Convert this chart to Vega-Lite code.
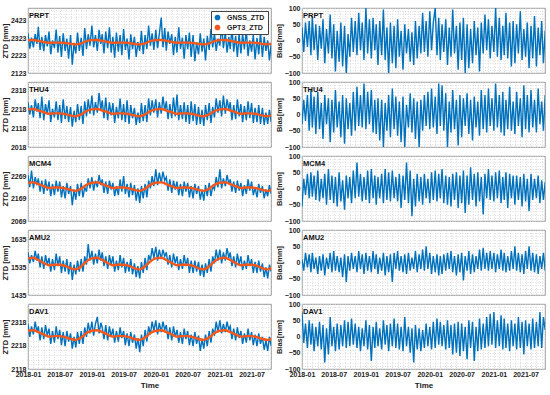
{
"$schema":"https://vega.github.io/schema/vega-lite/v6.json",
"padding":{"left":1,"top":3,"right":2,"bottom":2},
"spacing":0,
"resolve":{"scale":{"color":"independent"},"legend":{"color":"independent"}},
"config":{
 "font":"Liberation Sans",
 "view":{"stroke":"#808080","strokeWidth":0.8},
 "axis":{"labelFontSize":7,"labelFontWeight":"bold","labelColor":"#222","titleFontSize":7.5,"titleFontWeight":"bold","titleColor":"#222","grid":true,"gridColor":"#d2d2d2","gridDash":[1,1.5],"gridWidth":0.7,"domain":false,"ticks":false,"labelPadding":2,"titlePadding":1}
},
"datasets":{
"z":[
{"t":"2018-01-01","P":2350,"T":2255,"M":2275,"A":1590,"D":2310,"bp":40,"bt":-30,"bm":-55,"ba":10,"bd":75},
{"t":"2018-01-11","P":2262,"T":2190,"M":2220,"A":1550,"D":2255,"bp":-35,"bt":45,"bm":30,"ba":-25,"bd":-20},
{"t":"2018-01-21","P":2325,"T":2240,"M":2295,"A":1580,"D":2300,"bp":55,"bt":-20,"bm":-20,"ba":30,"bd":40},
{"t":"2018-02-01","P":2270,"T":2175,"M":2215,"A":1555,"D":2265,"bp":-20,"bt":60,"bm":45,"ba":-15,"bd":-35},
{"t":"2018-02-11","P":2345,"T":2270,"M":2265,"A":1595,"D":2320,"bp":60,"bt":-50,"bm":-30,"ba":25,"bd":50},
{"t":"2018-02-21","P":2290,"T":2205,"M":2230,"A":1560,"D":2275,"bp":-45,"bt":75,"bm":50,"ba":-30,"bd":-25},
{"t":"2018-03-01","P":2388,"T":2250,"M":2260,"A":1585,"D":2300,"bp":75,"bt":-40,"bm":-25,"ba":30,"bd":40},
{"t":"2018-03-11","P":2255,"T":2170,"M":2200,"A":1535,"D":2240,"bp":-30,"bt":55,"bm":40,"ba":-20,"bd":-45},
{"t":"2018-03-21","P":2330,"T":2285,"M":2250,"A":1575,"D":2295,"bp":50,"bt":-60,"bm":-35,"ba":15,"bd":30},
{"t":"2018-04-01","P":2248,"T":2160,"M":2190,"A":1530,"D":2245,"bp":-60,"bt":70,"bm":55,"ba":-35,"bd":-30},
{"t":"2018-04-11","P":2340,"T":2245,"M":2255,"A":1580,"D":2305,"bp":45,"bt":-45,"bm":-40,"ba":20,"bd":45},
{"t":"2018-04-21","P":2275,"T":2190,"M":2205,"A":1545,"D":2260,"bp":-25,"bt":35,"bm":30,"ba":-25,"bd":-40},
{"t":"2018-05-01","P":2360,"T":2265,"M":2245,"A":1570,"D":2290,"bp":65,"bt":-75,"bm":-30,"ba":25,"bd":35},
{"t":"2018-05-11","P":2230,"T":2150,"M":2180,"A":1520,"D":2225,"bp":-70,"bt":60,"bm":45,"ba":-40,"bd":-80},
{"t":"2018-05-21","P":2310,"T":2220,"M":2235,"A":1565,"D":2280,"bp":35,"bt":-30,"bm":-50,"ba":15,"bd":25},
{"t":"2018-06-01","P":2265,"T":2175,"M":2185,"A":1525,"D":2230,"bp":-40,"bt":50,"bm":60,"ba":-20,"bd":-55},
{"t":"2018-06-11","P":2372,"T":2260,"M":2250,"A":1585,"D":2300,"bp":80,"bt":-85,"bm":-35,"ba":30,"bd":60},
{"t":"2018-06-21","P":2240,"T":2160,"M":2200,"A":1540,"D":2245,"bp":-55,"bt":45,"bm":40,"ba":-30,"bd":-30},
{"t":"2018-07-01","P":2335,"T":2240,"M":2245,"A":1575,"D":2285,"bp":50,"bt":-55,"bm":-45,"ba":35,"bd":30},
{"t":"2018-07-11","P":2215,"T":2145,"M":2175,"A":1515,"D":2220,"bp":-95,"bt":75,"bm":35,"ba":-25,"bd":-45},
{"t":"2018-07-21","P":2350,"T":2270,"M":2225,"A":1560,"D":2275,"bp":30,"bt":-40,"bm":-55,"ba":20,"bd":40},
{"t":"2018-08-01","P":2250,"T":2165,"M":2170,"A":1520,"D":2215,"bp":-65,"bt":40,"bm":50,"ba":-30,"bd":-40},
{"t":"2018-08-11","P":2320,"T":2235,"M":2240,"A":1565,"D":2280,"bp":55,"bt":-70,"bm":-40,"ba":15,"bd":35},
{"t":"2018-08-21","P":2205,"T":2150,"M":2190,"A":1510,"D":2235,"bp":-80,"bt":60,"bm":25,"ba":-45,"bd":-30},
{"t":"2018-09-01","P":2340,"T":2230,"M":2225,"A":1555,"D":2270,"bp":45,"bt":-90,"bm":-65,"ba":25,"bd":50},
{"t":"2018-09-11","P":2170,"T":2125,"M":2140,"A":1490,"D":2205,"bp":-105,"bt":50,"bm":40,"ba":-60,"bd":-35},
{"t":"2018-09-21","P":2295,"T":2210,"M":2210,"A":1545,"D":2255,"bp":20,"bt":-45,"bm":-30,"ba":20,"bd":45},
{"t":"2018-10-01","P":2235,"T":2150,"M":2165,"A":1510,"D":2210,"bp":-50,"bt":35,"bm":35,"ba":-25,"bd":-30},
{"t":"2018-10-11","P":2355,"T":2245,"M":2235,"A":1560,"D":2275,"bp":70,"bt":-65,"bm":-45,"ba":30,"bd":55},
{"t":"2018-10-21","P":2250,"T":2160,"M":2180,"A":1520,"D":2225,"bp":-35,"bt":70,"bm":55,"ba":-20,"bd":-25},
{"t":"2018-11-01","P":2325,"T":2235,"M":2240,"A":1565,"D":2280,"bp":60,"bt":-50,"bm":-30,"ba":20,"bd":40},
{"t":"2018-11-11","P":2220,"T":2140,"M":2175,"A":1520,"D":2225,"bp":-45,"bt":85,"bm":80,"ba":-30,"bd":-35},
{"t":"2018-11-21","P":2380,"T":2260,"M":2220,"A":1575,"D":2295,"bp":85,"bt":-35,"bm":-25,"ba":35,"bd":30},
{"t":"2018-12-01","P":2260,"T":2180,"M":2200,"A":1545,"D":2255,"bp":-30,"bt":60,"bm":45,"ba":-20,"bd":-45},
{"t":"2018-12-11","P":2345,"T":2270,"M":2260,"A":1620,"D":2315,"bp":55,"bt":-40,"bm":-40,"ba":25,"bd":25},
{"t":"2018-12-21","P":2280,"T":2195,"M":2215,"A":1560,"D":2270,"bp":-60,"bt":95,"bm":35,"ba":-35,"bd":-30},
{"t":"2019-01-01","P":2395,"T":2290,"M":2265,"A":1595,"D":2320,"bp":100,"bt":-45,"bm":-35,"ba":30,"bd":50},
{"t":"2019-01-11","P":2270,"T":2185,"M":2205,"A":1545,"D":2260,"bp":-40,"bt":70,"bm":55,"ba":-25,"bd":-40},
{"t":"2019-01-21","P":2340,"T":2255,"M":2250,"A":1585,"D":2310,"bp":65,"bt":-30,"bm":-45,"ba":20,"bd":35},
{"t":"2019-02-01","P":2250,"T":2200,"M":2220,"A":1550,"D":2340,"bp":-55,"bt":75,"bm":60,"ba":-30,"bd":-75},
{"t":"2019-02-11","P":2370,"T":2305,"M":2275,"A":1600,"D":2270,"bp":70,"bt":-55,"bm":-30,"ba":35,"bd":30},
{"t":"2019-02-21","P":2290,"T":2215,"M":2230,"A":1560,"D":2315,"bp":-30,"bt":45,"bm":40,"ba":-20,"bd":-35},
{"t":"2019-03-01","P":2345,"T":2265,"M":2255,"A":1590,"D":2295,"bp":50,"bt":-60,"bm":-50,"ba":25,"bd":45},
{"t":"2019-03-11","P":2235,"T":2170,"M":2195,"A":1540,"D":2245,"bp":-75,"bt":50,"bm":35,"ba":-35,"bd":-30},
{"t":"2019-03-21","P":2360,"T":2280,"M":2245,"A":1575,"D":2305,"bp":60,"bt":-80,"bm":-30,"ba":15,"bd":25},
{"t":"2019-04-01","P":2265,"T":2160,"M":2190,"A":1530,"D":2240,"bp":-45,"bt":45,"bm":45,"ba":-25,"bd":-40},
{"t":"2019-04-11","P":2385,"T":2255,"M":2250,"A":1580,"D":2300,"bp":95,"bt":-100,"bm":-45,"ba":30,"bd":50},
{"t":"2019-04-21","P":2240,"T":2185,"M":2210,"A":1545,"D":2255,"bp":-60,"bt":35,"bm":60,"ba":-40,"bd":-25},
{"t":"2019-05-01","P":2330,"T":2250,"M":2240,"A":1575,"D":2290,"bp":40,"bt":-50,"bm":-35,"ba":20,"bd":35},
{"t":"2019-05-11","P":2210,"T":2145,"M":2180,"A":1520,"D":2230,"bp":-100,"bt":60,"bm":50,"ba":-30,"bd":-45},
{"t":"2019-05-21","P":2355,"T":2230,"M":2225,"A":1560,"D":2280,"bp":55,"bt":-70,"bm":-40,"ba":25,"bd":40},
{"t":"2019-06-01","P":2245,"T":2170,"M":2185,"A":1525,"D":2235,"bp":-70,"bt":80,"bm":55,"ba":-60,"bd":-30},
{"t":"2019-06-11","P":2340,"T":2275,"M":2255,"A":1580,"D":2295,"bp":45,"bt":-45,"bm":-30,"ba":30,"bd":55},
{"t":"2019-06-21","P":2225,"T":2160,"M":2200,"A":1535,"D":2250,"bp":-85,"bt":55,"bm":35,"ba":-20,"bd":-35},
{"t":"2019-07-01","P":2375,"T":2245,"M":2270,"A":1570,"D":2280,"bp":65,"bt":-65,"bm":-40,"ba":35,"bd":40},
{"t":"2019-07-11","P":2255,"T":2150,"M":2190,"A":1515,"D":2220,"bp":-50,"bt":40,"bm":45,"ba":-25,"bd":-40},
{"t":"2019-07-21","P":2320,"T":2265,"M":2235,"A":1555,"D":2270,"bp":30,"bt":-85,"bm":-60,"ba":20,"bd":30},
{"t":"2019-08-01","P":2200,"T":2140,"M":2175,"A":1520,"D":2215,"bp":-90,"bt":55,"bm":40,"ba":-30,"bd":-45},
{"t":"2019-08-11","P":2345,"T":2240,"M":2240,"A":1565,"D":2275,"bp":50,"bt":-100,"bm":-35,"ba":25,"bd":60},
{"t":"2019-08-21","P":2260,"T":2170,"M":2185,"A":1510,"D":2230,"bp":-40,"bt":30,"bm":80,"ba":-35,"bd":-30},
{"t":"2019-09-01","P":2330,"T":2225,"M":2230,"A":1550,"D":2265,"bp":35,"bt":-40,"bm":-45,"ba":30,"bd":30},
{"t":"2019-09-11","P":2215,"T":2135,"M":2160,"A":1500,"D":2205,"bp":-65,"bt":65,"bm":55,"ba":-25,"bd":-50},
{"t":"2019-09-21","P":2300,"T":2200,"M":2215,"A":1540,"D":2250,"bp":25,"bt":-55,"bm":-85,"ba":15,"bd":25},
{"t":"2019-10-01","P":2250,"T":2145,"M":2150,"A":1495,"D":2190,"bp":-75,"bt":50,"bm":30,"ba":-20,"bd":-80},
{"t":"2019-10-11","P":2365,"T":2250,"M":2225,"A":1555,"D":2265,"bp":60,"bt":-75,"bm":-55,"ba":35,"bd":35},
{"t":"2019-10-21","P":2230,"T":2155,"M":2170,"A":1515,"D":2215,"bp":-55,"bt":40,"bm":45,"ba":-30,"bd":-40},
{"t":"2019-11-01","P":2340,"T":2240,"M":2235,"A":1570,"D":2285,"bp":45,"bt":-100,"bm":-40,"ba":25,"bd":25},
{"t":"2019-11-11","P":2260,"T":2150,"M":2175,"A":1525,"D":2235,"bp":-40,"bt":45,"bm":35,"ba":-20,"bd":-45},
{"t":"2019-11-21","P":2395,"T":2275,"M":2250,"A":1580,"D":2300,"bp":85,"bt":-50,"bm":-50,"ba":40,"bd":20},
{"t":"2019-12-01","P":2280,"T":2185,"M":2215,"A":1560,"D":2265,"bp":-35,"bt":60,"bm":45,"ba":-25,"bd":-35},
{"t":"2019-12-11","P":2350,"T":2265,"M":2270,"A":1605,"D":2320,"bp":60,"bt":-35,"bm":-30,"ba":50,"bd":40},
{"t":"2019-12-21","P":2255,"T":2200,"M":2225,"A":1570,"D":2280,"bp":-50,"bt":70,"bm":30,"ba":-20,"bd":-30},
{"t":"2020-01-01","P":2370,"T":2270,"M":2300,"A":1610,"D":2325,"bp":90,"bt":-45,"bm":-45,"ba":30,"bd":30},
{"t":"2020-01-11","P":2265,"T":2175,"M":2230,"A":1560,"D":2265,"bp":-30,"bt":80,"bm":50,"ba":-35,"bd":-40},
{"t":"2020-01-21","P":2345,"T":2255,"M":2285,"A":1600,"D":2315,"bp":55,"bt":-40,"bm":-35,"ba":20,"bd":45},
{"t":"2020-02-01","P":2440,"T":2195,"M":2240,"A":1565,"D":2275,"bp":100,"bt":55,"bm":55,"ba":-30,"bd":-35},
{"t":"2020-02-11","P":2270,"T":2285,"M":2290,"A":1600,"D":2320,"bp":-45,"bt":-60,"bm":-40,"ba":25,"bd":55},
{"t":"2020-02-21","P":2380,"T":2210,"M":2250,"A":1575,"D":2285,"bp":70,"bt":95,"bm":45,"ba":-40,"bd":-25},
{"t":"2020-03-01","P":2250,"T":2260,"M":2265,"A":1590,"D":2305,"bp":-60,"bt":-35,"bm":-30,"ba":20,"bd":45},
{"t":"2020-03-11","P":2360,"T":2165,"M":2205,"A":1545,"D":2245,"bp":50,"bt":90,"bm":60,"ba":-35,"bd":-30},
{"t":"2020-03-21","P":2290,"T":2245,"M":2255,"A":1580,"D":2295,"bp":-35,"bt":-50,"bm":-45,"ba":25,"bd":35},
{"t":"2020-04-01","P":2345,"T":2170,"M":2195,"A":1535,"D":2240,"bp":65,"bt":65,"bm":40,"ba":-25,"bd":-40},
{"t":"2020-04-11","P":2225,"T":2280,"M":2250,"A":1585,"D":2300,"bp":-75,"bt":-100,"bm":-50,"ba":30,"bd":50},
{"t":"2020-04-21","P":2330,"T":2180,"M":2210,"A":1550,"D":2255,"bp":40,"bt":40,"bm":35,"ba":-20,"bd":-35},
{"t":"2020-05-01","P":2240,"T":2295,"M":2245,"A":1575,"D":2285,"bp":-50,"bt":-55,"bm":-55,"ba":35,"bd":35},
{"t":"2020-05-11","P":2385,"T":2160,"M":2185,"A":1525,"D":2230,"bp":95,"bt":75,"bm":45,"ba":-30,"bd":-55},
{"t":"2020-05-21","P":2260,"T":2240,"M":2235,"A":1565,"D":2275,"bp":-40,"bt":-45,"bm":-35,"ba":20,"bd":40},
{"t":"2020-06-01","P":2325,"T":2165,"M":2180,"A":1530,"D":2225,"bp":45,"bt":45,"bm":50,"ba":-40,"bd":-50},
{"t":"2020-06-11","P":2205,"T":2255,"M":2245,"A":1580,"D":2290,"bp":-90,"bt":-95,"bm":-60,"ba":25,"bd":45},
{"t":"2020-06-21","P":2340,"T":2150,"M":2200,"A":1540,"D":2245,"bp":55,"bt":60,"bm":40,"ba":-30,"bd":-60},
{"t":"2020-07-01","P":2260,"T":2240,"M":2240,"A":1570,"D":2280,"bp":-60,"bt":-70,"bm":-45,"ba":30,"bd":40},
{"t":"2020-07-11","P":2355,"T":2140,"M":2175,"A":1515,"D":2220,"bp":70,"bt":50,"bm":55,"ba":-55,"bd":-45},
{"t":"2020-07-21","P":2215,"T":2260,"M":2225,"A":1560,"D":2265,"bp":-100,"bt":-35,"bm":-75,"ba":20,"bd":30},
{"t":"2020-08-01","P":2340,"T":2155,"M":2170,"A":1515,"D":2215,"bp":50,"bt":65,"bm":40,"ba":-25,"bd":-70},
{"t":"2020-08-11","P":2190,"T":2245,"M":2235,"A":1560,"D":2275,"bp":-85,"bt":-60,"bm":-50,"ba":35,"bd":50},
{"t":"2020-08-21","P":2300,"T":2135,"M":2190,"A":1520,"D":2225,"bp":35,"bt":45,"bm":65,"ba":-35,"bd":-35},
{"t":"2020-09-01","P":2230,"T":2230,"M":2225,"A":1555,"D":2260,"bp":-70,"bt":-80,"bm":-35,"ba":25,"bd":45},
{"t":"2020-09-11","P":2350,"T":2140,"M":2165,"A":1505,"D":2195,"bp":60,"bt":55,"bm":45,"ba":-30,"bd":-75},
{"t":"2020-09-21","P":2245,"T":2215,"M":2210,"A":1545,"D":2245,"bp":-45,"bt":-40,"bm":-55,"ba":20,"bd":30},
{"t":"2020-10-01","P":2320,"T":2130,"M":2160,"A":1500,"D":2205,"bp":40,"bt":40,"bm":50,"ba":-20,"bd":-45},
{"t":"2020-10-11","P":2195,"T":2240,"M":2230,"A":1550,"D":2265,"bp":-95,"bt":-65,"bm":-40,"ba":40,"bd":55},
{"t":"2020-10-21","P":2335,"T":2160,"M":2180,"A":1515,"D":2215,"bp":55,"bt":75,"bm":35,"ba":-25,"bd":-40},
{"t":"2020-11-01","P":2255,"T":2250,"M":2240,"A":1565,"D":2280,"bp":-40,"bt":-45,"bm":-80,"ba":45,"bd":40},
{"t":"2020-11-11","P":2375,"T":2145,"M":2180,"A":1520,"D":2230,"bp":80,"bt":60,"bm":45,"ba":-20,"bd":-35},
{"t":"2020-11-21","P":2270,"T":2230,"M":2225,"A":1575,"D":2290,"bp":-30,"bt":-55,"bm":-30,"ba":30,"bd":60},
{"t":"2020-12-01","P":2350,"T":2175,"M":2210,"A":1550,"D":2260,"bp":65,"bt":80,"bm":60,"ba":-25,"bd":-30},
{"t":"2020-12-11","P":2250,"T":2275,"M":2265,"A":1600,"D":2320,"bp":-55,"bt":-35,"bm":-35,"ba":35,"bd":70},
{"t":"2020-12-21","P":2320,"T":2200,"M":2220,"A":1560,"D":2275,"bp":45,"bt":50,"bm":40,"ba":-20,"bd":-25},
{"t":"2021-01-01","P":2280,"T":2265,"M":2300,"A":1600,"D":2325,"bp":-35,"bt":-50,"bm":-40,"ba":30,"bd":75},
{"t":"2021-01-11","P":2400,"T":2180,"M":2215,"A":1550,"D":2270,"bp":100,"bt":95,"bm":50,"ba":-30,"bd":-35},
{"t":"2021-01-21","P":2265,"T":2290,"M":2260,"A":1590,"D":2310,"bp":-50,"bt":-40,"bm":-30,"ba":25,"bd":50},
{"t":"2021-02-01","P":2355,"T":2195,"M":2225,"A":1560,"D":2275,"bp":70,"bt":60,"bm":55,"ba":-20,"bd":-30},
{"t":"2021-02-11","P":2240,"T":2270,"M":2275,"A":1605,"D":2320,"bp":-60,"bt":-55,"bm":-45,"ba":40,"bd":65},
{"t":"2021-02-21","P":2330,"T":2215,"M":2235,"A":1570,"D":2285,"bp":45,"bt":70,"bm":35,"ba":-25,"bd":-40},
{"t":"2021-03-01","P":2260,"T":2255,"M":2255,"A":1590,"D":2300,"bp":-45,"bt":-65,"bm":-35,"ba":30,"bd":55},
{"t":"2021-03-11","P":2380,"T":2160,"M":2200,"A":1540,"D":2245,"bp":85,"bt":45,"bm":50,"ba":-30,"bd":-35},
{"t":"2021-03-21","P":2245,"T":2240,"M":2245,"A":1575,"D":2290,"bp":-55,"bt":-45,"bm":-60,"ba":20,"bd":40},
{"t":"2021-04-01","P":2335,"T":2165,"M":2195,"A":1535,"D":2240,"bp":55,"bt":85,"bm":45,"ba":-25,"bd":-45},
{"t":"2021-04-11","P":2215,"T":2270,"M":2250,"A":1585,"D":2295,"bp":-80,"bt":-50,"bm":-30,"ba":35,"bd":50},
{"t":"2021-04-21","P":2350,"T":2180,"M":2205,"A":1545,"D":2250,"bp":60,"bt":40,"bm":40,"ba":-20,"bd":-30},
{"t":"2021-05-01","P":2235,"T":2245,"M":2240,"A":1575,"D":2280,"bp":-70,"bt":-60,"bm":-50,"ba":50,"bd":40},
{"t":"2021-05-11","P":2345,"T":2150,"M":2180,"A":1525,"D":2225,"bp":50,"bt":70,"bm":40,"ba":-25,"bd":-40},
{"t":"2021-05-21","P":2260,"T":2235,"M":2230,"A":1560,"D":2270,"bp":-40,"bt":-35,"bm":-35,"ba":30,"bd":60},
{"t":"2021-06-01","P":2370,"T":2160,"M":2190,"A":1530,"D":2230,"bp":90,"bt":50,"bm":35,"ba":-30,"bd":-35},
{"t":"2021-06-11","P":2220,"T":2260,"M":2255,"A":1580,"D":2290,"bp":-60,"bt":-70,"bm":-55,"ba":25,"bd":45},
{"t":"2021-06-21","P":2310,"T":2170,"M":2205,"A":1540,"D":2240,"bp":35,"bt":90,"bm":45,"ba":-35,"bd":-55},
{"t":"2021-07-01","P":2245,"T":2250,"M":2245,"A":1565,"D":2275,"bp":-50,"bt":-45,"bm":-40,"ba":35,"bd":50},
{"t":"2021-07-11","P":2340,"T":2145,"M":2185,"A":1515,"D":2220,"bp":55,"bt":60,"bm":30,"ba":-20,"bd":-30},
{"t":"2021-07-21","P":2200,"T":2225,"M":2220,"A":1555,"D":2265,"bp":-85,"bt":-55,"bm":-70,"ba":50,"bd":40},
{"t":"2021-08-01","P":2325,"T":2150,"M":2175,"A":1515,"D":2215,"bp":45,"bt":75,"bm":45,"ba":-25,"bd":-40},
{"t":"2021-08-11","P":2230,"T":2240,"M":2235,"A":1560,"D":2270,"bp":-55,"bt":-40,"bm":-35,"ba":30,"bd":55},
{"t":"2021-08-21","P":2355,"T":2140,"M":2195,"A":1520,"D":2225,"bp":75,"bt":45,"bm":30,"ba":-30,"bd":-35},
{"t":"2021-09-01","P":2215,"T":2225,"M":2225,"A":1550,"D":2255,"bp":-80,"bt":-55,"bm":-30,"ba":25,"bd":45},
{"t":"2021-09-11","P":2330,"T":2135,"M":2170,"A":1500,"D":2200,"bp":40,"bt":80,"bm":40,"ba":-35,"bd":-30},
{"t":"2021-09-21","P":2250,"T":2200,"M":2210,"A":1535,"D":2240,"bp":-45,"bt":-30,"bm":-45,"ba":20,"bd":75},
{"t":"2021-10-01","P":2310,"T":2140,"M":2180,"A":1495,"D":2195,"bp":60,"bt":40,"bm":25,"ba":-20,"bd":-35},
{"t":"2021-10-11","P":2195,"T":2215,"M":2230,"A":1545,"D":2255,"bp":-70,"bt":-50,"bm":-35,"ba":30,"bd":60},
{"t":"2021-10-21","P":2290,"T":2150,"M":2190,"A":1520,"D":2215,"bp":30,"bt":60,"bm":20,"ba":-25,"bd":20}
],
"g":[
{"t":"2018-01-01","P":2311,"T":2217,"M":2240,"A":1568,"D":2281},
{"t":"2018-02-01","P":2312,"T":2219,"M":2242,"A":1570,"D":2283},
{"t":"2018-03-01","P":2307,"T":2211,"M":2234,"A":1562,"D":2275},
{"t":"2018-04-01","P":2301,"T":2202,"M":2225,"A":1551,"D":2265},
{"t":"2018-05-01","P":2296,"T":2194,"M":2217,"A":1543,"D":2256},
{"t":"2018-06-01","P":2297,"T":2196,"M":2219,"A":1545,"D":2258},
{"t":"2018-07-01","P":2297,"T":2196,"M":2219,"A":1545,"D":2258},
{"t":"2018-08-01","P":2295,"T":2192,"M":2215,"A":1541,"D":2254},
{"t":"2018-09-01","P":2290,"T":2185,"M":2208,"A":1532,"D":2246},
{"t":"2018-10-01","P":2287,"T":2181,"M":2204,"A":1528,"D":2242},
{"t":"2018-11-01","P":2293,"T":2191,"M":2214,"A":1539,"D":2252},
{"t":"2018-12-01","P":2305,"T":2208,"M":2231,"A":1557,"D":2271},
{"t":"2019-01-01","P":2311,"T":2217,"M":2240,"A":1568,"D":2281},
{"t":"2019-02-01","P":2312,"T":2219,"M":2242,"A":1570,"D":2283},
{"t":"2019-03-01","P":2307,"T":2211,"M":2234,"A":1562,"D":2275},
{"t":"2019-04-01","P":2301,"T":2202,"M":2225,"A":1551,"D":2265},
{"t":"2019-05-01","P":2296,"T":2194,"M":2217,"A":1543,"D":2256},
{"t":"2019-06-01","P":2297,"T":2196,"M":2219,"A":1545,"D":2258},
{"t":"2019-07-01","P":2297,"T":2196,"M":2219,"A":1545,"D":2258},
{"t":"2019-08-01","P":2295,"T":2192,"M":2215,"A":1541,"D":2254},
{"t":"2019-09-01","P":2290,"T":2185,"M":2208,"A":1532,"D":2246},
{"t":"2019-10-01","P":2287,"T":2181,"M":2204,"A":1528,"D":2242},
{"t":"2019-11-01","P":2293,"T":2191,"M":2214,"A":1539,"D":2252},
{"t":"2019-12-01","P":2305,"T":2208,"M":2231,"A":1557,"D":2271},
{"t":"2020-01-01","P":2311,"T":2217,"M":2240,"A":1568,"D":2281},
{"t":"2020-02-01","P":2312,"T":2219,"M":2242,"A":1570,"D":2283},
{"t":"2020-03-01","P":2307,"T":2211,"M":2234,"A":1562,"D":2275},
{"t":"2020-04-01","P":2301,"T":2202,"M":2225,"A":1551,"D":2265},
{"t":"2020-05-01","P":2296,"T":2194,"M":2217,"A":1543,"D":2256},
{"t":"2020-06-01","P":2297,"T":2196,"M":2219,"A":1545,"D":2258},
{"t":"2020-07-01","P":2297,"T":2196,"M":2219,"A":1545,"D":2258},
{"t":"2020-08-01","P":2295,"T":2192,"M":2215,"A":1541,"D":2254},
{"t":"2020-09-01","P":2290,"T":2185,"M":2208,"A":1532,"D":2246},
{"t":"2020-10-01","P":2287,"T":2181,"M":2204,"A":1528,"D":2242},
{"t":"2020-11-01","P":2293,"T":2191,"M":2214,"A":1539,"D":2252},
{"t":"2020-12-01","P":2305,"T":2208,"M":2231,"A":1557,"D":2271},
{"t":"2021-01-01","P":2311,"T":2217,"M":2240,"A":1568,"D":2281},
{"t":"2021-02-01","P":2312,"T":2219,"M":2242,"A":1570,"D":2283},
{"t":"2021-03-01","P":2307,"T":2211,"M":2234,"A":1562,"D":2275},
{"t":"2021-04-01","P":2301,"T":2202,"M":2225,"A":1551,"D":2265},
{"t":"2021-05-01","P":2296,"T":2194,"M":2217,"A":1543,"D":2256},
{"t":"2021-06-01","P":2297,"T":2196,"M":2219,"A":1545,"D":2258},
{"t":"2021-07-01","P":2297,"T":2196,"M":2219,"A":1545,"D":2258},
{"t":"2021-08-01","P":2295,"T":2192,"M":2215,"A":1541,"D":2254},
{"t":"2021-09-01","P":2290,"T":2185,"M":2208,"A":1532,"D":2246},
{"t":"2021-10-01","P":2287,"T":2181,"M":2204,"A":1528,"D":2242},
{"t":"2021-11-01","P":2293,"T":2191,"M":2214,"A":1539,"D":2252}
]
},
"vconcat":[
{"hconcat":[
 {"width":243,"height":65,"layer":[
  {"data":{"name":"z"},"mark":{"type":"line","strokeWidth":1.4,"clip":true},
   "encoding":{
    "x":{"field":"t","type":"temporal","scale":{"type":"utc","domain":[{"year":2018,"month":1,"date":1,"utc":true},{"year":2021,"month":10,"date":20,"utc":true}]},"axis":{"title":null,"labels":false,"tickCount":{"interval":"month","step":1}}},
    "y":{"field":"P","type":"quantitative","scale":{"domain":[2123,2495],"nice":false,"zero":false},"axis":{"title":"ZTD [mm]","format":"d","tickCount":50,"labelOverlap":false,"values":[2123,2143,2163,2183,2203,2223,2243,2263,2283,2303,2323,2343,2363,2383,2403,2423,2443,2463,2483],"labelExpr":"(datum.value-2123)%100==0 ? datum.label : ''"}},
    "color":{"datum":"GNSS_ZTD","type":"nominal","scale":{"domain":["GNSS_ZTD","GPT3_ZTD"],"range":["#0072BD","#F5581C"]},"legend":{"title":null,"orient":"top-right","offset":3,"symbolType":"circle","symbolSize":32,"labelFontSize":7,"labelFontWeight":"bold","labelFont":"Liberation Sans","labelColor":"#222","strokeColor":"#444","fillColor":"white","padding":3,"rowPadding":2,"labelOffset":6,"encode":{"symbols":{"update":{"fill":{"signal":"datum.value==='GNSS_ZTD' ? '#0072BD' : '#F5581C'"},"fillOpacity":{"value":1},"strokeWidth":{"value":0}}}}}}
   }},
  {"data":{"name":"g"},"mark":{"type":"line","strokeWidth":2.4,"interpolate":"monotone","clip":true},
   "encoding":{"x":{"field":"t","type":"temporal"},"y":{"field":"P","type":"quantitative"},"color":{"datum":"GPT3_ZTD","type":"nominal"}}},
  {"data":{"values":[{"s":"PRPT"}]},"mark":{"type":"text","align":"left","baseline":"top","dx":1,"dy":4,"fontWeight":"bold","fontSize":7.5,"color":"#111"},
   "encoding":{"x":{"datum":{"year":2018,"month":1,"date":1,"utc":true},"type":"temporal"},"y":{"datum":2495,"type":"quantitative"},"text":{"field":"s"}}}
 ]},
 {"width":243,"height":65,"layer":[
  {"data":{"name":"z"},"mark":{"type":"line","strokeWidth":1.4,"clip":true,"color":"#0072BD"},
   "encoding":{
    "x":{"field":"t","type":"temporal","scale":{"type":"utc","domain":[{"year":2018,"month":1,"date":1,"utc":true},{"year":2021,"month":10,"date":20,"utc":true}]},"axis":{"title":null,"labels":false,"tickCount":{"interval":"month","step":1}}},
    "y":{"field":"bp","type":"quantitative","scale":{"domain":[-100,100],"nice":false},"axis":{"title":"Bias[mm]","format":"d","tickCount":50,"labelOverlap":false,"values":[-100,-90,-80,-70,-60,-50,-40,-30,-20,-10,0,10,20,30,40,50,60,70,80,90,100],"labelExpr":"datum.value%50==0 ? datum.label : ''"}}
   }},
  {"data":{"values":[{"s":"PRPT"}]},"mark":{"type":"text","align":"left","baseline":"top","dx":1,"dy":4,"fontWeight":"bold","fontSize":7.5,"color":"#111"},
   "encoding":{"x":{"datum":{"year":2018,"month":1,"date":1,"utc":true},"type":"temporal"},"y":{"datum":100,"type":"quantitative"},"text":{"field":"s"}}}
 ]}
],"spacing":2,"resolve":{"scale":{"color":"independent"},"legend":{"color":"independent"}}},
{"hconcat":[
 {"width":243,"height":65,"layer":[
  {"data":{"name":"z"},"mark":{"type":"line","strokeWidth":1.4,"clip":true,"color":"#0072BD"},
   "encoding":{
    "x":{"field":"t","type":"temporal","scale":{"type":"utc","domain":[{"year":2018,"month":1,"date":1,"utc":true},{"year":2021,"month":10,"date":20,"utc":true}]},"axis":{"title":null,"labels":false,"tickCount":{"interval":"month","step":1}}},
    "y":{"field":"T","type":"quantitative","scale":{"domain":[2018,2362],"nice":false,"zero":false},"axis":{"title":"ZTD [mm]","format":"d","tickCount":50,"labelOverlap":false,"values":[2018,2038,2058,2078,2098,2118,2138,2158,2178,2198,2218,2238,2258,2278,2298,2318,2338,2358],"labelExpr":"(datum.value-2018)%100==0 ? datum.label : ''"}}
   }},
  {"data":{"name":"g"},"mark":{"type":"line","strokeWidth":2.4,"interpolate":"monotone","clip":true,"color":"#F5581C"},
   "encoding":{"x":{"field":"t","type":"temporal"},"y":{"field":"T","type":"quantitative"}}},
  {"data":{"values":[{"s":"THU4"}]},"mark":{"type":"text","align":"left","baseline":"top","dx":1,"dy":4,"fontWeight":"bold","fontSize":7.5,"color":"#111"},
   "encoding":{"x":{"datum":{"year":2018,"month":1,"date":1,"utc":true},"type":"temporal"},"y":{"datum":2362,"type":"quantitative"},"text":{"field":"s"}}}
 ]},
 {"width":243,"height":65,"layer":[
  {"data":{"name":"z"},"mark":{"type":"line","strokeWidth":1.4,"clip":true,"color":"#0072BD"},
   "encoding":{
    "x":{"field":"t","type":"temporal","scale":{"type":"utc","domain":[{"year":2018,"month":1,"date":1,"utc":true},{"year":2021,"month":10,"date":20,"utc":true}]},"axis":{"title":null,"labels":false,"tickCount":{"interval":"month","step":1}}},
    "y":{"field":"bt","type":"quantitative","scale":{"domain":[-100,100],"nice":false},"axis":{"title":"Bias[mm]","format":"d","tickCount":50,"labelOverlap":false,"values":[-100,-90,-80,-70,-60,-50,-40,-30,-20,-10,0,10,20,30,40,50,60,70,80,90,100],"labelExpr":"datum.value%50==0 ? datum.label : ''"}}
   }},
  {"data":{"values":[{"s":"THU4"}]},"mark":{"type":"text","align":"left","baseline":"top","dx":1,"dy":4,"fontWeight":"bold","fontSize":7.5,"color":"#111"},
   "encoding":{"x":{"datum":{"year":2018,"month":1,"date":1,"utc":true},"type":"temporal"},"y":{"datum":100,"type":"quantitative"},"text":{"field":"s"}}}
 ]}
],"spacing":2},
{"hconcat":[
 {"width":243,"height":65,"layer":[
  {"data":{"name":"z"},"mark":{"type":"line","strokeWidth":1.4,"clip":true,"color":"#0072BD"},
   "encoding":{
    "x":{"field":"t","type":"temporal","scale":{"type":"utc","domain":[{"year":2018,"month":1,"date":1,"utc":true},{"year":2021,"month":10,"date":20,"utc":true}]},"axis":{"title":null,"labels":false,"tickCount":{"interval":"month","step":1}}},
    "y":{"field":"M","type":"quantitative","scale":{"domain":[2069,2360],"nice":false,"zero":false},"axis":{"title":"ZTD [mm]","format":"d","tickCount":50,"labelOverlap":false,"values":[2069,2089,2109,2129,2149,2169,2189,2209,2229,2249,2269,2289,2309,2329,2349],"labelExpr":"(datum.value-2069)%100==0 ? datum.label : ''"}}
   }},
  {"data":{"name":"g"},"mark":{"type":"line","strokeWidth":2.4,"interpolate":"monotone","clip":true,"color":"#F5581C"},
   "encoding":{"x":{"field":"t","type":"temporal"},"y":{"field":"M","type":"quantitative"}}},
  {"data":{"values":[{"s":"MCM4"}]},"mark":{"type":"text","align":"left","baseline":"top","dx":1,"dy":4,"fontWeight":"bold","fontSize":7.5,"color":"#111"},
   "encoding":{"x":{"datum":{"year":2018,"month":1,"date":1,"utc":true},"type":"temporal"},"y":{"datum":2360,"type":"quantitative"},"text":{"field":"s"}}}
 ]},
 {"width":243,"height":65,"layer":[
  {"data":{"name":"z"},"mark":{"type":"line","strokeWidth":1.4,"clip":true,"color":"#0072BD"},
   "encoding":{
    "x":{"field":"t","type":"temporal","scale":{"type":"utc","domain":[{"year":2018,"month":1,"date":1,"utc":true},{"year":2021,"month":10,"date":20,"utc":true}]},"axis":{"title":null,"labels":false,"tickCount":{"interval":"month","step":1}}},
    "y":{"field":"bm","type":"quantitative","scale":{"domain":[-100,100],"nice":false},"axis":{"title":"Bias[mm]","format":"d","tickCount":50,"labelOverlap":false,"values":[-100,-90,-80,-70,-60,-50,-40,-30,-20,-10,0,10,20,30,40,50,60,70,80,90,100],"labelExpr":"datum.value%50==0 ? datum.label : ''"}}
   }},
  {"data":{"values":[{"s":"MCM4"}]},"mark":{"type":"text","align":"left","baseline":"top","dx":1,"dy":4,"fontWeight":"bold","fontSize":7.5,"color":"#111"},
   "encoding":{"x":{"datum":{"year":2018,"month":1,"date":1,"utc":true},"type":"temporal"},"y":{"datum":100,"type":"quantitative"},"text":{"field":"s"}}}
 ]}
],"spacing":2},
{"hconcat":[
 {"width":243,"height":65,"layer":[
  {"data":{"name":"z"},"mark":{"type":"line","strokeWidth":1.4,"clip":true,"color":"#0072BD"},
   "encoding":{
    "x":{"field":"t","type":"temporal","scale":{"type":"utc","domain":[{"year":2018,"month":1,"date":1,"utc":true},{"year":2021,"month":10,"date":20,"utc":true}]},"axis":{"title":null,"labels":false,"tickCount":{"interval":"month","step":1}}},
    "y":{"field":"A","type":"quantitative","scale":{"domain":[1435,1671],"nice":false,"zero":false},"axis":{"title":"ZTD [mm]","format":"d","tickCount":50,"labelOverlap":false,"values":[1435,1455,1475,1495,1515,1535,1555,1575,1595,1615,1635,1655],"labelExpr":"(datum.value-1435)%100==0 ? datum.label : ''"}}
   }},
  {"data":{"name":"g"},"mark":{"type":"line","strokeWidth":2.4,"interpolate":"monotone","clip":true,"color":"#F5581C"},
   "encoding":{"x":{"field":"t","type":"temporal"},"y":{"field":"A","type":"quantitative"}}},
  {"data":{"values":[{"s":"AMU2"}]},"mark":{"type":"text","align":"left","baseline":"top","dx":1,"dy":4,"fontWeight":"bold","fontSize":7.5,"color":"#111"},
   "encoding":{"x":{"datum":{"year":2018,"month":1,"date":1,"utc":true},"type":"temporal"},"y":{"datum":1671,"type":"quantitative"},"text":{"field":"s"}}}
 ]},
 {"width":243,"height":65,"layer":[
  {"data":{"name":"z"},"mark":{"type":"line","strokeWidth":1.4,"clip":true,"color":"#0072BD"},
   "encoding":{
    "x":{"field":"t","type":"temporal","scale":{"type":"utc","domain":[{"year":2018,"month":1,"date":1,"utc":true},{"year":2021,"month":10,"date":20,"utc":true}]},"axis":{"title":null,"labels":false,"tickCount":{"interval":"month","step":1}}},
    "y":{"field":"ba","type":"quantitative","scale":{"domain":[-100,100],"nice":false},"axis":{"title":"Bias[mm]","format":"d","tickCount":50,"labelOverlap":false,"values":[-100,-90,-80,-70,-60,-50,-40,-30,-20,-10,0,10,20,30,40,50,60,70,80,90,100],"labelExpr":"datum.value%50==0 ? datum.label : ''"}}
   }},
  {"data":{"values":[{"s":"AMU2"}]},"mark":{"type":"text","align":"left","baseline":"top","dx":1,"dy":4,"fontWeight":"bold","fontSize":7.5,"color":"#111"},
   "encoding":{"x":{"datum":{"year":2018,"month":1,"date":1,"utc":true},"type":"temporal"},"y":{"datum":100,"type":"quantitative"},"text":{"field":"s"}}}
 ]}
],"spacing":2},
{"hconcat":[
 {"width":243,"height":65,"layer":[
  {"data":{"name":"z"},"mark":{"type":"line","strokeWidth":1.4,"clip":true,"color":"#0072BD"},
   "encoding":{
    "x":{"field":"t","type":"temporal","scale":{"type":"utc","domain":[{"year":2018,"month":1,"date":1,"utc":true},{"year":2021,"month":10,"date":20,"utc":true}]},"axis":{"title":"Time","format":"%Y-%m","tickCount":{"interval":"month","step":1},"labelExpr":"utcmonth(datum.value)%6==0 ? datum.label : ''","labelFlush":false,"labelOverlap":false,"labelPadding":1,"titlePadding":4,"titleFontSize":8}},
    "y":{"field":"D","type":"quantitative","scale":{"domain":[2118,2395],"nice":false,"zero":false},"axis":{"title":"ZTD [mm]","format":"d","tickCount":50,"labelOverlap":false,"values":[2118,2138,2158,2178,2198,2218,2238,2258,2278,2298,2318,2338,2358,2378],"labelExpr":"(datum.value-2118)%100==0 ? datum.label : ''"}}
   }},
  {"data":{"name":"g"},"mark":{"type":"line","strokeWidth":2.4,"interpolate":"monotone","clip":true,"color":"#F5581C"},
   "encoding":{"x":{"field":"t","type":"temporal"},"y":{"field":"D","type":"quantitative"}}},
  {"data":{"values":[{"s":"DAV1"}]},"mark":{"type":"text","align":"left","baseline":"top","dx":1,"dy":4,"fontWeight":"bold","fontSize":7.5,"color":"#111"},
   "encoding":{"x":{"datum":{"year":2018,"month":1,"date":1,"utc":true},"type":"temporal"},"y":{"datum":2395,"type":"quantitative"},"text":{"field":"s"}}}
 ]},
 {"width":243,"height":65,"layer":[
  {"data":{"name":"z"},"mark":{"type":"line","strokeWidth":1.4,"clip":true,"color":"#0072BD"},
   "encoding":{
    "x":{"field":"t","type":"temporal","scale":{"type":"utc","domain":[{"year":2018,"month":1,"date":1,"utc":true},{"year":2021,"month":10,"date":20,"utc":true}]},"axis":{"title":"Time","format":"%Y-%m","tickCount":{"interval":"month","step":1},"labelExpr":"utcmonth(datum.value)%6==0 ? datum.label : ''","labelFlush":false,"labelOverlap":false,"labelPadding":1,"titlePadding":4,"titleFontSize":8}},
    "y":{"field":"bd","type":"quantitative","scale":{"domain":[-100,100],"nice":false},"axis":{"title":"Bias[mm]","format":"d","tickCount":50,"labelOverlap":false,"values":[-100,-90,-80,-70,-60,-50,-40,-30,-20,-10,0,10,20,30,40,50,60,70,80,90,100],"labelExpr":"datum.value%50==0 ? datum.label : ''"}}
   }},
  {"data":{"values":[{"s":"DAV1"}]},"mark":{"type":"text","align":"left","baseline":"top","dx":1,"dy":4,"fontWeight":"bold","fontSize":7.5,"color":"#111"},
   "encoding":{"x":{"datum":{"year":2018,"month":1,"date":1,"utc":true},"type":"temporal"},"y":{"datum":100,"type":"quantitative"},"text":{"field":"s"}}}
 ]}
],"spacing":2}
]
}
